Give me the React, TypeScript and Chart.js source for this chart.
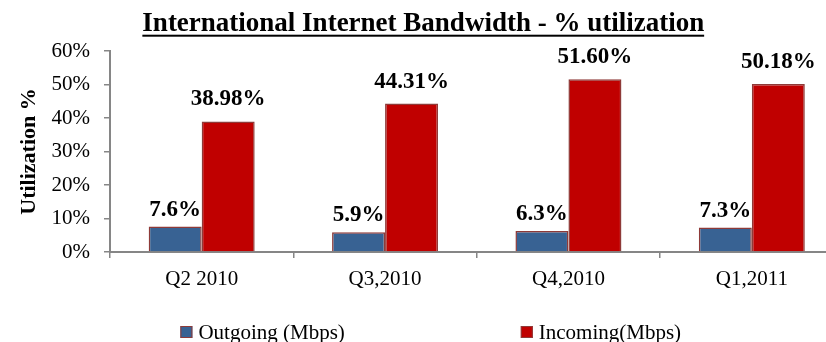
import React, { useEffect, useRef } from "react";
import { Chart, registerables } from "chart.js";

Chart.register(...registerables);

const categories = ["Q2 2010", "Q3,2010", "Q4,2010", "Q1,2011"];
const outgoing = [7.6, 5.9, 6.3, 7.3];
const incoming = [38.98, 44.31, 51.6, 50.18];
const seriesNames = ["Outgoing (Mbps)", "Incoming(Mbps)"];
const labelDecimals = [1, 2];
const chartTitle = "International Internet Bandwidth - % utilization";
const yAxisTitle = "Utilization %";
const yMin = 0;
const yMax = 60;
const yStep = 10;

const FONT = "'Liberation Serif', 'Times New Roman', serif";
const AXIS = "#868686";
const BLUE = "#386293";
const RED = "#C00000";
const EDGE = "#8E3A38";

const TITLE_SIZE = 27;
const TITLE_PAD = { top: 7.5, bottom: 11.1 };

const valueLabels = {
  id: "valueLabels",
  afterDatasetsDraw(chart: any) {
    const ctx = chart.ctx;
    const gaps = [11, 16];
    ctx.save();
    ctx.font = `bold 23px ${FONT}`;
    ctx.fillStyle = "#000";
    ctx.textAlign = "center";
    ctx.textBaseline = "alphabetic";
    chart.data.datasets.forEach((ds: any, di: number) => {
      const meta = chart.getDatasetMeta(di);
      meta.data.forEach((bar: any, i: number) => {
        const v = ds.data[i] as number;
        ctx.fillText(v.toFixed(labelDecimals[di]) + "%", bar.x, bar.y - gaps[di]);
      });
    });
    ctx.restore();
  },
};

const decorations = {
  id: "decorations",
  afterDraw(chart: any) {
    const ctx = chart.ctx;
    ctx.save();
    // title underline
    const tb = chart.titleBlock;
    if (tb) {
      ctx.font = `bold ${TITLE_SIZE}px ${FONT}`;
      const w = ctx.measureText(chartTitle).width;
      const cx = (tb.left + tb.right) / 2;
      const y = tb.top + TITLE_PAD.top + (TITLE_SIZE * 1.2) / 2 + 11;
      ctx.fillStyle = "#000";
      ctx.fillRect(cx - w / 2, y, w, 2);
    }
    // legend
    ctx.font = `21px ${FONT}`;
    ctx.textBaseline = "middle";
    ctx.textAlign = "left";
    const box = 12;
    const textGap = 6;
    const itemGap = 176;
    const items = chart.data.datasets.map((ds: any) => ({
      text: ds.label,
      fill: ds.backgroundColor,
      stroke: ds.borderColor,
      w: box + textGap + ctx.measureText(ds.label).width,
    }));
    const total = items.reduce((s: number, it: any) => s + it.w, 0) + itemGap * (items.length - 1);
    const area = chart.chartArea;
    const center = (area.left + area.right) / 2 - 46;
    let x = center - total / 2;
    const y = chart.height - 10;
    items.forEach((it: any) => {
      ctx.fillStyle = it.fill;
      ctx.fillRect(x, y - box / 2, box, box);
      ctx.strokeStyle = it.stroke;
      ctx.lineWidth = 1;
      ctx.strokeRect(x + 0.5, y - box / 2 + 0.5, box - 1, box - 1);
      ctx.fillStyle = "#000";
      ctx.fillText(it.text, x + box + textGap, y + 1);
      x += it.w + itemGap;
    });
    ctx.restore();
  },
};

export default function App() {
  const ref = useRef<HTMLCanvasElement | null>(null);

  useEffect(() => {
    if (!ref.current) return;
    const chart = new Chart(ref.current, {
      type: "bar",
      data: {
        labels: categories,
        datasets: [
          {
            label: seriesNames[0],
            data: outgoing,
            backgroundColor: BLUE,
            borderColor: EDGE,
            borderWidth: 1.5,
            categoryPercentage: 0.578,
            barPercentage: 1,
          },
          {
            label: seriesNames[1],
            data: incoming,
            backgroundColor: RED,
            borderColor: EDGE,
            borderWidth: 1.5,
            categoryPercentage: 0.578,
            barPercentage: 1,
          },
        ],
      },
      options: {
        animation: false,
        responsive: false,
        maintainAspectRatio: false,
        devicePixelRatio: 1,
        layout: { padding: { left: 3, right: 6.5, top: 0, bottom: 50 } },
        plugins: {
          legend: { display: false },
          tooltip: { enabled: false },
          title: {
            display: true,
            text: chartTitle,
            color: "#000",
            font: { family: FONT, size: TITLE_SIZE, weight: "bold" },
            padding: TITLE_PAD,
          },
        },
        scales: {
          x: {
            offset: true,
            grid: {
              offset: true,
              drawOnChartArea: false,
              drawTicks: true,
              tickLength: 6,
              color: AXIS,
              lineWidth: 1.5,
            },
            border: { display: true, color: AXIS, width: 2 },
            ticks: {
              color: "#000",
              padding: 8.4,
              font: { family: FONT, size: 21 },
              maxRotation: 0,
              autoSkip: false,
            },
            afterFit: (scale: any) => {
              scale.height = 40;
            },
          },
          y: {
            min: yMin,
            max: yMax,
            grid: {
              drawOnChartArea: false,
              drawTicks: true,
              tickLength: 6,
              color: AXIS,
              lineWidth: 1.5,
            },
            border: { display: true, color: AXIS, width: 2 },
            ticks: {
              stepSize: yStep,
              color: "#000",
              padding: 14,
              font: { family: FONT, size: 21 },
              callback: (v: any) => `${v}%`,
            },
            title: {
              display: true,
              text: yAxisTitle,
              color: "#000",
              font: { family: FONT, size: 22, weight: "bold" },
              padding: { top: 13.3, bottom: 4 },
            },
            afterFit: (scale: any) => {
              scale.width = 107;
            },
          },
        },
      },
      plugins: [valueLabels, decorations],
    });
    return () => chart.destroy();
  }, []);

  return (
    <div style={{ position: "fixed", left: 0, top: 0, width: 850, height: 342, background: "#fff" }}>
      <canvas ref={ref} width={850} height={342} style={{ display: "block", width: 850, height: 342 }} />
    </div>
  );
}
